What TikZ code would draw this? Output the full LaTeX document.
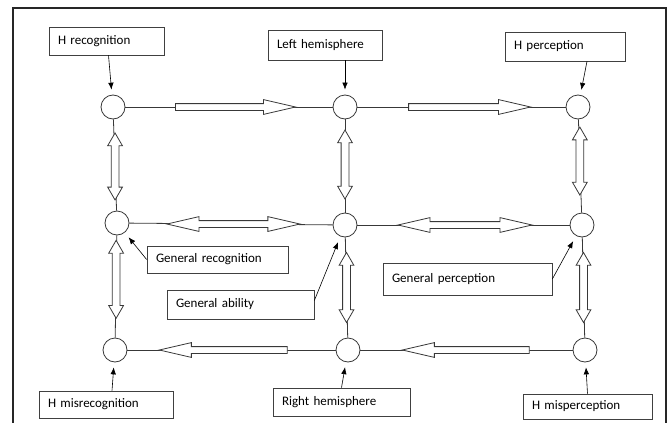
\documentclass[tikz,border=0pt]{standalone}
\usepackage{fontspec}
\setmainfont{Carlito}
\usetikzlibrary{shapes.arrows,arrows.meta,calc}
\begin{document}
\begin{tikzpicture}[x=1pt,y=-1pt,
  ink/.style={draw=black!78, line width=0.8pt},
  hub/.style={circle, ink, fill=white, minimum size=24pt, inner sep=0pt},
  tag/.style={draw=black!75, line width=0.7pt, fill=white, inner xsep=9pt, inner ysep=0pt,
    align=left, font=\fontsize{13}{15}\selectfont},
  link/.style={ink},
  pointer/.style={draw=black, line width=0.6pt, -{Latex[length=7pt,width=5.5pt]}, shorten >=5pt},
  fwd/.style={single arrow, ink, fill=white, inner sep=3pt, single arrow head extend=4pt,
    single arrow tip angle=26, minimum height=#1, anchor=tail},
  both/.style={double arrow, ink, fill=white, inner sep=3pt, double arrow head extend=4pt,
    double arrow tip angle=26, minimum height=#1},
  vboth/.style={double arrow, ink, fill=white, inner sep=3.5pt, double arrow head extend=3.5pt,
    double arrow tip angle=60, shape border rotate=90, minimum height=#1},
]
\useasboundingbox (0,0) rectangle (672,423);

% outer frame, open at the bottom
\draw[line width=1.6pt, draw=black!85] (13,430) -- (13,8) -- (666,8) -- (666,430);

% hubs
\node[hub] (c11) at (113,107) {};
\node[hub] (c12) at (345,107) {};
\node[hub] (c13) at (578,107) {};
\node[hub] (c21) at (117,223) {};
\node[hub] (c22) at (345,225) {};
\node[hub] (c23) at (582,225) {};
\node[hub] (c31) at (115,350) {};
\node[hub] (c32) at (348,350) {};
\node[hub] (c33) at (585,350) {};

% horizontal links (single arrows placed by their tails)
\draw[link] (c11) -- node[pos=.240, fwd=120pt] {} (c12);
\draw[link] (c12) -- node[pos=.244, fwd=122pt] {} (c13);
\draw[link] (c21) -- node[pos=.512, both=133pt] {} (c22);
\draw[link] (c22) -- node[pos=.507, both=134pt] {} (c23);
\draw[link] (c31) -- node[pos=.770, fwd=128pt, shape border rotate=180] {} (c32);
\draw[link] (c32) -- node[pos=.798, fwd=127pt, shape border rotate=180] {} (c33);

% vertical links
\draw[link] (c11) -- node[pos=.516, vboth=67pt] {} (c21);
\draw[link] (c21) -- node[pos=.43, vboth=78pt] {} (c31);
\draw[link] (c12) -- node[pos=.484, vboth=69pt] {} (c22);
\draw[link] (c22) -- node[pos=.5, vboth=70pt] {} (c32);
\draw[link] (c13) -- node[pos=.447, vboth=68pt] {} (c23);
\draw[link] (c23) -- node[pos=.5, vboth=70pt] {} (c33);

% labels
\node[tag, text width=97pt, minimum height=28pt] (hrec) at (106.5,41) {H recognition};
\node[tag, text width=96pt, minimum height=30pt] (left) at (325,45) {Left hemisphere};
\node[tag, text width=102pt, minimum height=29pt] (hperc) at (565,46.5) {H perception};
\node[tag, text width=123pt, minimum height=27pt] (genrec) at (217.5,259.5) {General recognition};
\node[tag, text width=129pt, minimum height=29pt] (genab) at (240.5,304.5) {General ability};
\node[tag, text width=151pt, minimum height=32pt] (genperc) at (467.5,279) {General perception};
\node[tag, text width=116pt, minimum height=27pt] (hmisrec) at (106,404.5) {H misrecognition};
\node[tag, text width=119pt, minimum height=28pt] (right) at (341.5,402) {Right hemisphere};
\node[tag, text width=111pt, minimum height=25pt] (hmisperc) at (587.5,406.5) {H misperception};

% pointers from labels to hubs
\draw[pointer] ($(hrec.south)+(2,0)$) -- (c11);
\draw[pointer] (left.south -| c12) -- (c12);
\draw[pointer] ($(hperc.south)+(22,0)$) -- (c13);
\draw[pointer, shorten >=6pt] (genrec.west) -- (c21);
\draw[pointer, shorten >=6pt] ($(genab.east)+(0,-4)$) -- (c22);
\draw[pointer, shorten >=6pt] (genperc.east) -- (c23);
\draw[pointer] ($(hmisrec.north)+(6,0)$) -- (c31);
\draw[pointer] (right.north) -- (c32);
\draw[pointer] (hmisperc.north) -- (c33);
\end{tikzpicture}
\end{document}
